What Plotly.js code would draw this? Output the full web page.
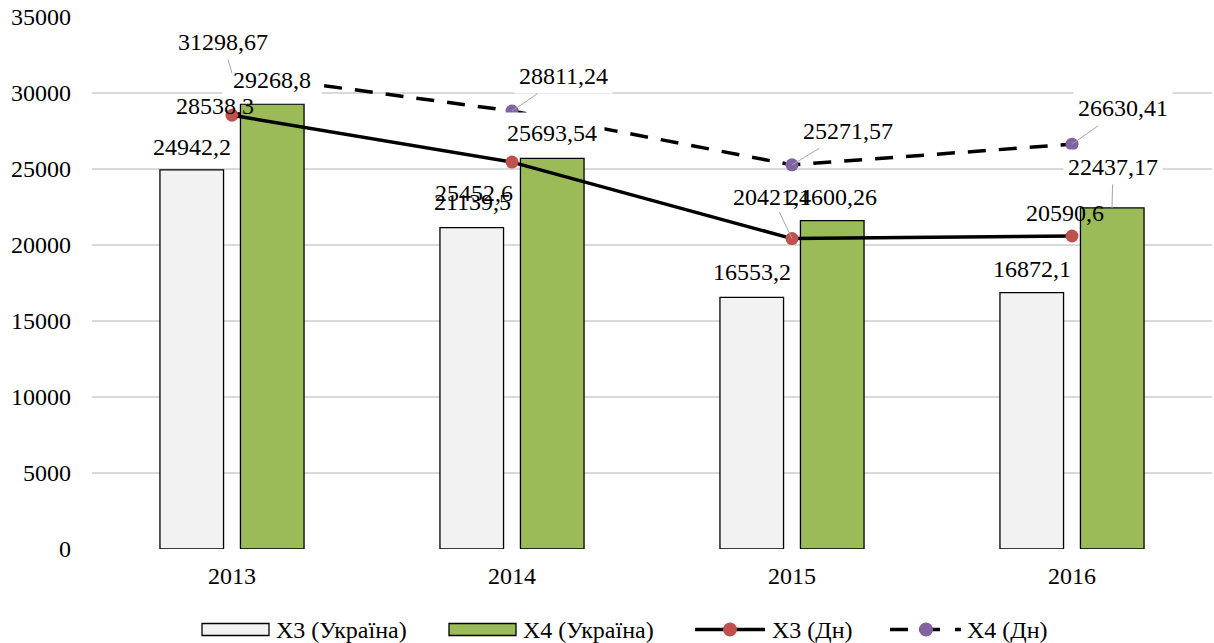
<!DOCTYPE html>
<html>
<head>
<meta charset="utf-8">
<script src="https://cdn.plot.ly/plotly-3.0.1.min.js"></script>
<style>html,body{margin:0;padding:0;background:#fff;}#chart{width:1214px;height:643px;}</style>
</head>
<body>
<div id="chart"></div>
<script>
// ---- data ----
const years = ['2013', '2014', '2015', '2016'];
const x3Ukraine = [24942.2, 21139.5, 16553.2, 16872.1];
const x4Ukraine = [29268.8, 25693.54, 21600.26, 22437.17];
const x3Dn = [28538.3, 25452.6, 20421.4, 20590.6];
const x4Dn = [31298.67, 28811.24, 25271.57, 26630.41];
const seriesNames = ['X3 (Україна)', 'X4 (Україна)', 'X3 (Дн)', 'X4 (Дн)'];
const yTicks = [0, 5000, 10000, 15000, 20000, 25000, 30000, 35000];

// ---- style ----
const FONT = '"Liberation Serif", "Times New Roman", serif';
const FS = 24;
const C_X3U = '#F2F2F2', C_X4U = '#9BBB59', C_RED = '#C0504D', C_PURPLE = '#8064A2';
const GRID = '#D9D9D9', LEADER = '#A6A6A6';
const M = {l: 92, r: 2, t: 17, b: 94};
const W = 1214 - M.l - M.r, H = 643 - M.t - M.b;
const BAR_SHIFT = 40; // px from category centre to bar centre

const fmt = v => String(v).replace('.', ',');

const traces = [
  {type: 'bar', name: seriesNames[0], x: years, y: x3Ukraine,
   marker: {color: C_X3U, line: {color: '#000', width: 1.3}}, hoverinfo: 'skip'},
  {type: 'bar', name: seriesNames[1], x: years, y: x4Ukraine,
   marker: {color: C_X4U, line: {color: '#000', width: 1.3}}, hoverinfo: 'skip'},
  {type: 'scatter', mode: 'lines+markers', name: seriesNames[2], x: years, y: x3Dn,
   line: {color: '#000', width: 3.5}, marker: {color: C_RED, size: 13}, hoverinfo: 'skip'},
  {type: 'scatter', mode: 'lines+markers', name: seriesNames[3], x: years, y: x4Dn,
   line: {color: '#000', width: 3.5, dash: '18px,13px'}, marker: {color: C_PURPLE, size: 13}, hoverinfo: 'skip'}
];

const labelFont = {family: FONT, size: FS, color: '#000'};
const ann = [];
// category index i is used as the annotation x on the category axis
function plain(i, y, dx, dy, bg, pad) {
  ann.push({x: i, y: y, xref: 'x', yref: 'y', text: fmt(y), showarrow: false,
    xanchor: 'center', yanchor: 'middle', xshift: dx, yshift: -dy,
    font: labelFont, bgcolor: bg ? '#fff' : 'rgba(0,0,0,0)', borderpad: pad || (bg ? 7 : 2)});
}
function leader(i, y, ax, ay, shift, bg) {
  ann.push({x: i, y: y, xref: 'x', yref: 'y', text: fmt(y), showarrow: true,
    arrowhead: 0, arrowwidth: 1, arrowcolor: LEADER, standoff: 0, startstandoff: 0,
    ax: ax, ay: ay, xshift: shift || 0,
    xanchor: 'center', yanchor: 'middle',
    font: labelFont, bgcolor: bg ? '#fff' : 'rgba(0,0,0,0)', borderpad: bg ? 4 : 2});
}

// X4 (Україна) labels (filled boxes)
plain(0, x4Ukraine[0], BAR_SHIFT, -24, true, 10);
plain(1, x4Ukraine[1], BAR_SHIFT, -25, true);
plain(2, x4Ukraine[2], BAR_SHIFT, -24, true);
leader(3, x4Ukraine[3], 1, -41, BAR_SHIFT, true);
// X3 (Україна) labels
plain(0, x3Ukraine[0], -BAR_SHIFT, -23, false);
plain(1, x3Ukraine[1], -BAR_SHIFT, -26, false);
plain(2, x3Ukraine[2], -BAR_SHIFT, -25, false);
plain(3, x3Ukraine[3], -BAR_SHIFT, -24, false);
// X4 (Дн) labels
leader(0, x4Dn[0], -9, -31, 0, true);
leader(1, x4Dn[1], 51, -35, 0, true);
leader(2, x4Dn[2], 56, -34, 0, true);
leader(3, x4Dn[3], 51, -36, 0, true);
// X3 (Дн) labels
plain(0, x3Dn[0], -17, -9, false);
plain(1, x3Dn[1], -38, 31, false);
leader(2, x3Dn[2], -20, -42, 0, false);
plain(3, x3Dn[3], -7.5, -23, false);

// ---- custom legend (pixel -> paper helpers) ----
const px = x => (x - M.l) / W;
const py = y => (M.t + H - y) / H;
const LY = 629.5;
const shapes = [];
const rect = (x0, x1, fill) => shapes.push({type: 'rect', xref: 'paper', yref: 'paper',
  x0: px(x0), x1: px(x1), y0: py(623.5), y1: py(635.5), fillcolor: fill, line: {color: '#000', width: 1.3}});
const seg = (x0, x1) => shapes.push({type: 'line', xref: 'paper', yref: 'paper',
  x0: px(x0), x1: px(x1), y0: py(LY), y1: py(LY), line: {color: '#000', width: 3.5}});
const dot = (cx, fill) => shapes.push({type: 'circle', xref: 'paper', yref: 'paper',
  x0: px(cx - 7), x1: px(cx + 7), y0: py(LY + 7), y1: py(LY - 7), fillcolor: fill, line: {width: 0}});
rect(202, 269, C_X3U);
rect(449, 516, C_X4U);
seg(695, 765); dot(730, C_RED);
seg(890, 908); seg(919, 940); seg(955, 961); dot(926, C_PURPLE);
const legText = (x, t) => ann.push({xref: 'paper', yref: 'paper', x: px(x), y: py(LY), text: t,
  showarrow: false, xanchor: 'left', yanchor: 'middle', font: labelFont});
legText(274, seriesNames[0]);
legText(521, seriesNames[1]);
legText(770, seriesNames[2]);
legText(965, seriesNames[3]);

const layout = {
  width: 1214, height: 643,
  margin: M,
  paper_bgcolor: '#fff', plot_bgcolor: '#fff',
  font: {family: FONT, size: FS, color: '#000'},
  showlegend: false,
  barmode: 'group', bargap: 0.425, bargroupgap: 0.21,
  xaxis: {type: 'category', range: [-0.5, 3.5], autorange: false, showgrid: false, zeroline: false, showline: false, ticks: '',
    tickfont: {family: FONT, size: FS, color: '#000'}, ticklabelstandoff: 10, automargin: false},
  yaxis: {range: [0, 35000], autorange: false, tickvals: yTicks, ticktext: yTicks.map(String),
    showgrid: true, gridcolor: GRID, gridwidth: 1.3, zeroline: false, showline: false, ticks: '',
    tickfont: {family: FONT, size: FS, color: '#000'}, ticklabelstandoff: 20, automargin: false},
  annotations: ann,
  shapes: shapes
};

Plotly.newPlot('chart', traces, layout, {staticPlot: true, displayModeBar: false});
</script>
</body>
</html>
